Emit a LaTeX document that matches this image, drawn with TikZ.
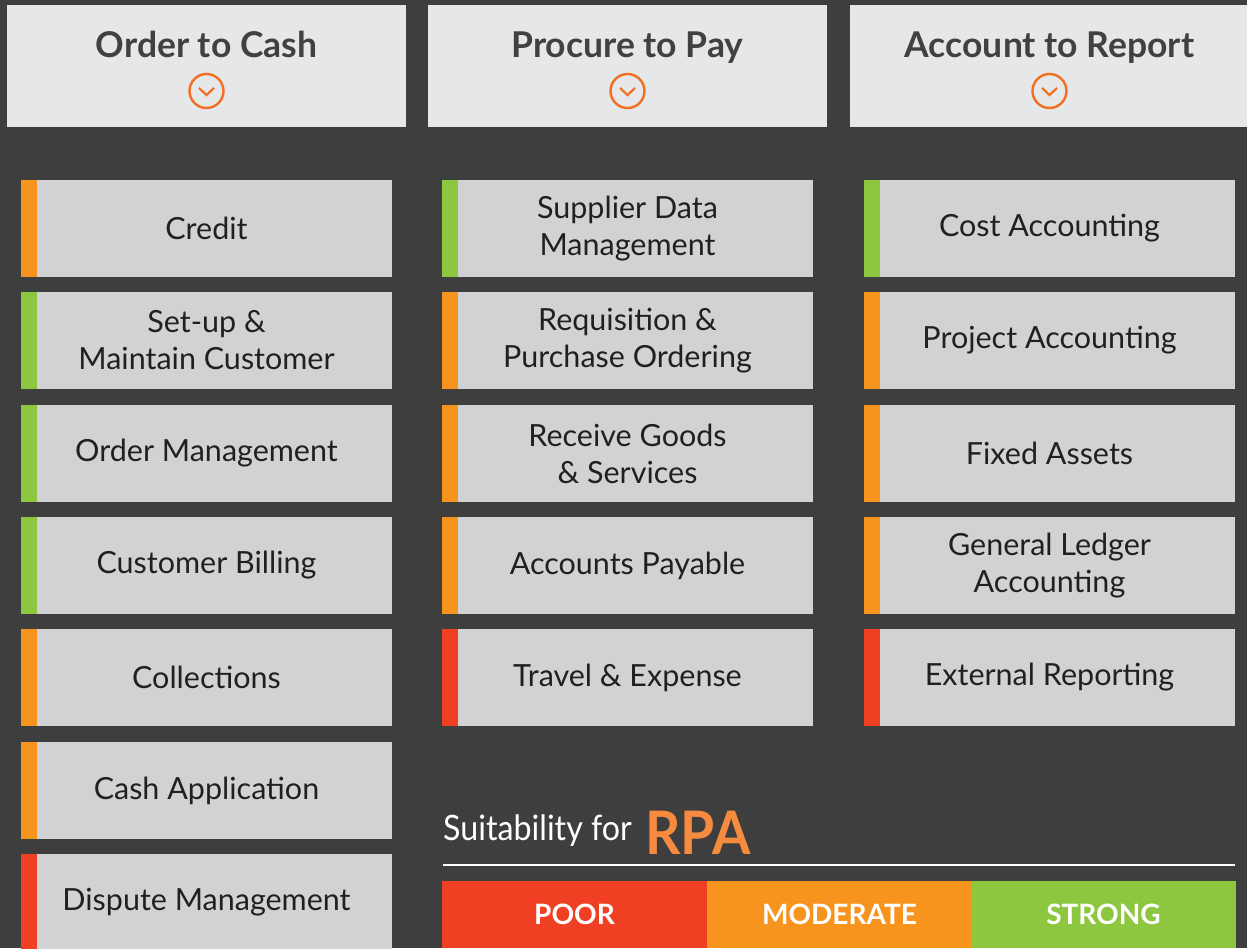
\documentclass[tikz,border=0pt]{standalone}
\usepackage{fontspec}
\setmainfont{Lato}
\newfontfamily\narrowfont[FakeStretch=0.92]{Lato}
\definecolor{bgdark}{HTML}{3E3E3E}
\definecolor{headfill}{HTML}{E6E7E9}
\definecolor{boxfill}{HTML}{D1D2D4}
\definecolor{headtext}{HTML}{414042}
\definecolor{boxtext}{HTML}{231F20}
\definecolor{ratepoor}{HTML}{F04023}
\definecolor{ratemod}{HTML}{F7941D}
\definecolor{ratestrong}{HTML}{8DC63F}
\definecolor{chevorange}{HTML}{F26F21}
\definecolor{rpaorange}{HTML}{F68B3F}
\tikzset{
  headbox/.style={rectangle, fill=headfill, minimum width=399pt, minimum height=122pt, inner sep=0pt},
  headtitle/.style={anchor=base, text=headtext, font=\bfseries\fontsize{35.5}{40}\selectfont},
  procbox/.style={rectangle, fill=boxfill, minimum width=371pt, minimum height=97pt, inner sep=0pt,
    align=center, text=boxtext, font=\fontsize{30.5}{37}\selectfont,
    path picture={\fill[#1] (path picture bounding box.north west) rectangle ([xshift=16pt]path picture bounding box.south west);}},
  ratebar/.style={rectangle, fill=#1, minimum width=265pt, minimum height=67pt, inner sep=0pt,
    text=white, font=\bfseries\fontsize{28}{32}\selectfont},
}
\begin{document}
\begin{tikzpicture}[x=1pt,y=-1pt]
\fill[bgdark] (0,0) rectangle (1247,948);
\useasboundingbox (0,0) rectangle (1247,948);

% column headers with their drop-down markers
\foreach \cx/\title/\nm in {206.5/Order to Cash/hA, 627.5/Procure to Pay/hB, 1049.5/Account to Report/hC}{
  \node[headbox] (\nm) at (\cx,66) {};
  \node[headtitle] (\nm-t) at (\cx,57) {\title};
  \node[circle, draw=chevorange, line width=2.4pt, minimum size=34pt, inner sep=0pt] (\nm-c) at (\cx,91) {};
  \draw[chevorange, line width=2.2pt, line join=miter] ([shift={(-7.5,-3)}]\nm-c.center) -- ([shift={(0,4)}]\nm-c.center) -- ([shift={(7.5,-3)}]\nm-c.center);
}

% Order to Cash
\node[procbox=ratemod]    (o1) at (206.5,228.5) {Credit};
\node[procbox=ratestrong] (o2) at (206.5,340.5) {Set-up \&\\Maintain Customer};
\node[procbox=ratestrong] (o3) at (206.5,453.5) {Order Management};
\node[procbox=ratestrong] (o4) at (206.5,565.5) {Customer Billing};
\node[procbox=ratemod]    (o5) at (206.5,677.5) {Collections};
\node[procbox=ratemod]    (o6) at (206.5,790.5) {Cash Application};
\node[procbox=ratepoor]   (o7) at (206.5,902.5) {Dispute Management};

% Procure to Pay
\node[procbox=ratestrong] (p1) at (627.5,228.5) {Supplier Data\\Management};
\node[procbox=ratemod]    (p2) at (627.5,340.5) {Requisition \&\\Purchase Ordering};
\node[procbox=ratemod]    (p3) at (627.5,453.5) {Receive Goods\\\& Services};
\node[procbox=ratemod]    (p4) at (627.5,565.5) {Accounts Payable};
\node[procbox=ratepoor]   (p5) at (627.5,677.5) {Travel \& Expense};

% Account to Report
\node[procbox=ratestrong] (a1) at (1049.5,228.5) {Cost Accounting};
\node[procbox=ratemod]    (a2) at (1049.5,340.5) {Project Accounting};
\node[procbox=ratemod]    (a3) at (1049.5,453.5) {Fixed Assets};
\node[procbox=ratemod]    (a4) at (1049.5,565.5) {General Ledger\\Accounting};
\node[procbox=ratepoor]   (a5) at (1049.5,677.5) {External Reporting};

% legend
\node[anchor=base west, inner sep=0pt, text=white, font=\narrowfont\fontsize{35}{38}\selectfont] (lg) at (443,840) {Suitability for};
\node[anchor=base west, inner sep=0pt, text=rpaorange, font=\narrowfont\bfseries\fontsize{60}{62}\selectfont] (rpa) at (645,854) {RPA};
\coordinate (ruleL) at (443,865);
\coordinate (ruleR) at (1235,865);
\draw[white, line width=2pt] (ruleL) -- (ruleR);
\node[ratebar=ratepoor]   (r1) at (574.5,914.5) {POOR};
\node[ratebar=ratemod]    (r2) at (839.5,914.5) {MODERATE};
\node[ratebar=ratestrong] (r3) at (1103.5,914.5) {STRONG};
\end{tikzpicture}
\end{document}
